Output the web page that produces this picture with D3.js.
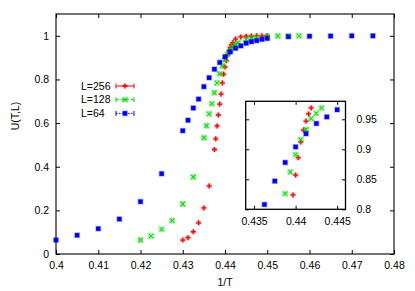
<!DOCTYPE html>
<html>
<head>
<meta charset="utf-8">
<script src="https://cdn.jsdelivr.net/npm/d3@7"></script>
<style>
body { margin: 0; background: #fff; }
text { font-family: "Liberation Sans", Arial, sans-serif; font-size: 10.5px; fill: #000; }
</style>
</head>
<body>
<div id="chart"></div>
<script>
// Binder cumulant U(T,L) vs 1/T
var l256X = [0.43, 0.43125, 0.4325, 0.43375, 0.435, 0.43625, 0.4375, 0.4378125, 0.438125, 0.4384375,
    0.43875, 0.4390625, 0.439375, 0.4396875, 0.44, 0.4403125, 0.440625, 0.4409375, 0.44125, 0.4415625,
    0.441875, 0.4425, 0.44375, 0.445, 0.44625, 0.4475, 0.44875, 0.45];
var l256U = [0.064, 0.075, 0.102, 0.143, 0.211, 0.312, 0.479, 0.528, 0.587, 0.637,
    0.687, 0.733, 0.784, 0.824, 0.857, 0.886, 0.912, 0.932, 0.947, 0.959,
    0.969, 0.985, 0.995, 0.998, 0.999, 1.0, 1.0, 1.0];

var l128X = [0.42, 0.4225, 0.425, 0.4275, 0.43, 0.4325, 0.435, 0.435625, 0.43625, 0.436875,
    0.4375, 0.438125, 0.43875, 0.439375, 0.44, 0.440625, 0.44125, 0.441875, 0.4425, 0.443125,
    0.445, 0.44625, 0.4475, 0.45, 0.4525, 0.455, 0.4575];
var l128U = [0.064, 0.082, 0.113, 0.153, 0.229, 0.353, 0.533, 0.588, 0.642, 0.689,
    0.739, 0.784, 0.826, 0.862, 0.891, 0.916, 0.933, 0.951, 0.960, 0.969,
    0.984, 0.989, 0.993, 0.997, 0.999, 0.999, 1.0];

var l64X = [0.4, 0.405, 0.41, 0.415, 0.42, 0.425, 0.43, 0.43125, 0.4325, 0.43375,
    0.435, 0.43625, 0.4375, 0.43875, 0.44, 0.44125, 0.4425, 0.44375, 0.445, 0.44625,
    0.4475, 0.44875, 0.45, 0.455, 0.46, 0.465, 0.47, 0.475];
var l64U = [0.064, 0.086, 0.116, 0.160, 0.240, 0.368, 0.565, 0.613, 0.669, 0.710,
    0.767, 0.808, 0.847, 0.878, 0.904, 0.926, 0.943, 0.954, 0.966, 0.973,
    0.978, 0.984, 0.988, 0.996, 0.998, 0.999, 1.0, 1.0];

var seriesNames = ["L=256", "L=128", "L=64"];
var seriesColors = ["#ff0000", "#00dd00", "#0000ff"];
var seriesDash = [null, "3,2", "1.5,1.5"];

var mainXTicks = [0.4, 0.41, 0.42, 0.43, 0.44, 0.45, 0.46, 0.47, 0.48];
var mainYTicks = [0, 0.2, 0.4, 0.6, 0.8, 1];
var insetXTicks = [0.435, 0.44, 0.445];
var insetYTicks = [0.8, 0.85, 0.9, 0.95];

function zipSeries(xs, us) {
    return xs.map(function(x, i) { return { x: x, u: us[i] }; });
}

var series = [
    { name: seriesNames[0], kind: "plus", values: zipSeries(l256X, l256U) },
    { name: seriesNames[1], kind: "cross", values: zipSeries(l128X, l128U) },
    { name: seriesNames[2], kind: "square", values: zipSeries(l64X, l64U) }
];

/*
 * BinderChart - main plot with key and a zoomed inset
 */
BinderChart = function(_parentElement, _data) {
    this.parentElement = _parentElement;
    this.data = _data;
    this.initVis();
};

BinderChart.prototype.initVis = function() {
    var vis = this;

    vis.width = 415;
    vis.height = 291;

    vis.svg = d3.select("#" + vis.parentElement).append("svg")
        .attr("width", vis.width)
        .attr("height", vis.height);

    // main frame: 56..394 x 14..254
    vis.x = d3.scaleLinear().domain([0.4, 0.48]).range([56, 394]);
    vis.y = d3.scaleLinear().domain([0, 1.1]).range([254, 14]);

    vis.drawFrame(vis.svg, vis.x, vis.y, mainXTicks, mainYTicks, "main");

    vis.svg.append("text")
        .attr("x", 225)
        .attr("y", 286)
        .attr("text-anchor", "middle")
        .text("1/T");

    vis.svg.append("text")
        .attr("transform", "translate(19,116) rotate(-90)")
        .attr("text-anchor", "middle")
        .text("U(T,L)");

    vis.drawPoints(vis.svg.append("g"), vis.x, vis.y, vis.data);

    // key
    vis.legend = vis.svg.append("g").attr("class", "key");
    vis.data.forEach(function(s, i) {
        var ly = 86 + i * 13.7;
        var g = vis.legend.append("g");
        g.append("text")
            .attr("x", 81)
            .attr("y", ly)
            .attr("dy", "0.35em")
            .text(s.name);
        g.append("line")
            .attr("x1", 116).attr("x2", 134)
            .attr("y1", ly).attr("y2", ly)
            .attr("stroke", seriesColors[i])
            .attr("stroke-width", 1)
            .attr("stroke-dasharray", seriesDash[i]);
        [116, 134].forEach(function(cx) {
            g.append("line")
                .attr("x1", cx).attr("x2", cx)
                .attr("y1", ly - 2.5).attr("y2", ly + 2.5)
                .attr("stroke", seriesColors[i])
                .attr("stroke-width", 1);
        });
        vis.drawMarker(g, s.kind, 125, ly, seriesColors[i]);
    });

    // inset
    vis.ix = d3.scaleLinear().domain([0.434, 0.446]).range([245.7, 345.5]);
    vis.iy = d3.scaleLinear().domain([0.8, 0.98]).range([209.3, 101.3]);

    vis.svg.append("rect")
        .attr("x", 245.7).attr("y", 101.3)
        .attr("width", 345.5 - 245.7).attr("height", 209.3 - 101.3)
        .attr("fill", "#fff");

    var insetData = vis.data.map(function(s) {
        return {
            name: s.name,
            kind: s.kind,
            values: s.values.filter(function(d) {
                return d.x >= 0.434 && d.x <= 0.446 && d.u >= 0.8 && d.u <= 0.98;
            })
        };
    });
    vis.drawPoints(vis.svg.append("g"), vis.ix, vis.iy, insetData);
    vis.drawFrame(vis.svg, vis.ix, vis.iy, insetXTicks, insetYTicks, "inset");
};

BinderChart.prototype.drawFrame = function(svg, x, y, xTicks, yTicks, which) {
    var x0 = x.range()[0], x1 = x.range()[1];
    var y0 = y.range()[0], y1 = y.range()[1];
    var inset = which === "inset";
    var tick = inset ? 3.5 : 4;
    var fmt = function(d) { return d3.format("")(+d.toFixed(3)); };

    var bottom = svg.append("g")
        .attr("transform", "translate(0," + y0 + ")")
        .call(d3.axisBottom(x).tickValues(xTicks).tickSize(-tick).tickSizeOuter(0)
            .tickPadding(8).tickFormat(fmt));
    svg.append("g")
        .attr("transform", "translate(0," + y1 + ")")
        .call(d3.axisTop(x).tickValues(xTicks).tickSize(-tick).tickSizeOuter(0).tickFormat(""));

    var side;
    if (inset) {
        side = svg.append("g")
            .attr("transform", "translate(" + x1 + ",0)")
            .call(d3.axisRight(y).tickValues(yTicks).tickSize(-tick).tickSizeOuter(0)
                .tickPadding(11).tickFormat(fmt));
        svg.append("g")
            .attr("transform", "translate(" + x0 + ",0)")
            .call(d3.axisLeft(y).tickValues(yTicks).tickSize(-tick).tickSizeOuter(0).tickFormat(""));
    } else {
        side = svg.append("g")
            .attr("transform", "translate(" + x0 + ",0)")
            .call(d3.axisLeft(y).tickValues(yTicks).tickSize(-tick).tickSizeOuter(0)
                .tickPadding(7).tickFormat(fmt));
        svg.append("g")
            .attr("transform", "translate(" + x1 + ",0)")
            .call(d3.axisRight(y).tickValues(yTicks).tickSize(-tick).tickSizeOuter(0).tickFormat(""));
    }

    svg.selectAll(".domain").remove();
    svg.selectAll(".tick line").attr("stroke", "#000").attr("stroke-width", 1);
    svg.selectAll(".tick text")
        .attr("font-family", null)
        .attr("font-size", null)
        .style("font-size", "10.5px")
        .attr("fill", "#000");

    svg.append("rect")
        .attr("x", x0).attr("y", y1)
        .attr("width", x1 - x0).attr("height", y0 - y1)
        .attr("fill", "none")
        .attr("stroke", "#000")
        .attr("stroke-width", inset ? 1.3 : 1.1);
};

BinderChart.prototype.drawPoints = function(g, x, y, data) {
    var vis = this;
    data.forEach(function(s, i) {
        var color = seriesColors[i];
        s.values.forEach(function(d) {
            vis.drawMarker(g, s.kind, x(d.x), y(d.u), color);
        });
    });
};

BinderChart.prototype.drawMarker = function(g, kind, cx, cy, color) {
    var m = g.append("g").attr("transform", "translate(" + cx + "," + cy + ")");
    if (kind === "plus") {
        m.append("path")
            .attr("d", "M-2.6,0H2.6M0,-2.6V2.6")
            .attr("stroke", color).attr("stroke-opacity", 0.3)
            .attr("stroke-width", 3);
        m.append("path")
            .attr("d", "M-2.5,0H2.5M0,-2.5V2.5")
            .attr("stroke", color)
            .attr("stroke-width", 1.3);
    } else if (kind === "cross") {
        m.append("rect")
            .attr("x", -2.5).attr("y", -2.5)
            .attr("width", 5).attr("height", 5)
            .attr("fill", "none")
            .attr("stroke", color).attr("stroke-opacity", 0.4)
            .attr("stroke-width", 1);
        m.append("path")
            .attr("d", "M-2,-2L2,2M-2,2L2,-2")
            .attr("stroke", color)
            .attr("stroke-width", 1.2);
    } else {
        m.append("rect")
            .attr("x", -2.2).attr("y", -2.2)
            .attr("width", 4.4).attr("height", 4.4)
            .attr("fill", color)
            .attr("stroke", color).attr("stroke-opacity", 0.3)
            .attr("stroke-width", 1.5);
    }
};

var chart = new BinderChart("chart", series);
</script>
</body>
</html>
